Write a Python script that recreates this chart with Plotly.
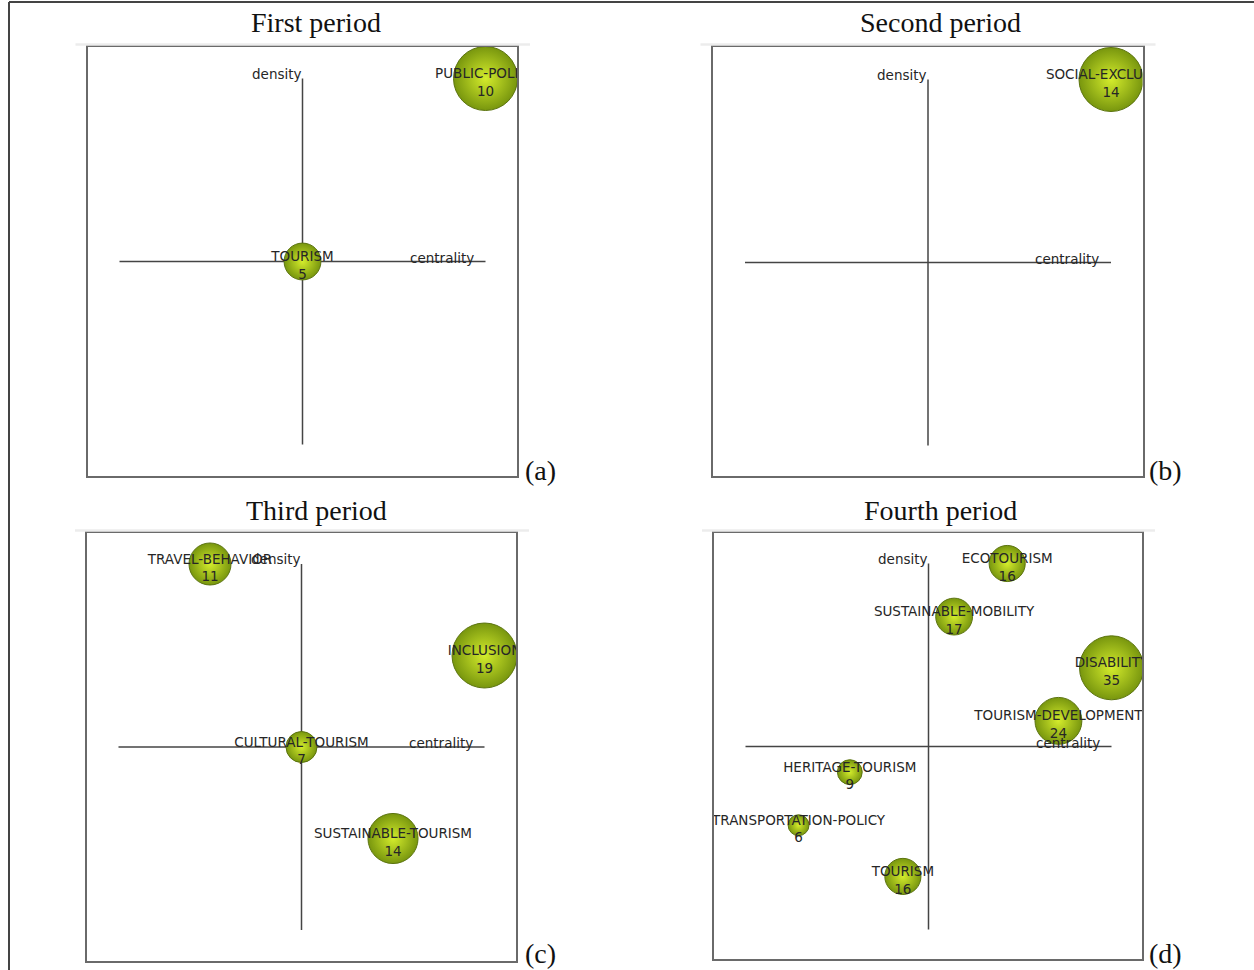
import plotly.graph_objects as go
import math

# ---------------- data ----------------
first_themes = ["PUBLIC-POLICY", "TOURISM"]
first_counts = [10, 5]
first_centrality = [1.0, 0.0]
first_density = [1.0, 0.0]
first_weight = [16.0, 5.3]

second_themes = ["SOCIAL-EXCLUSION"]
second_counts = [14]
second_centrality = [1.0]
second_density = [1.0]
second_weight = [16.0]

third_themes = ["TRAVEL-BEHAVIOR", "INCLUSION", "CULTURAL-TOURISM", "SUSTAINABLE-TOURISM"]
third_counts = [11, 19, 7, 14]
third_centrality = [-0.5, 1.0, 0.0, 0.5]
third_density = [1.0, 0.5, 0.0, -0.5]
third_weight = [6.9, 16.5, 3.75, 9.8]

fourth_themes = ["ECOTOURISM", "SUSTAINABLE-MOBILITY", "DISABILITY", "TOURISM-DEVELOPMENT",
                 "HERITAGE-TOURISM", "TRANSPORTATION-POLICY", "TOURISM"]
fourth_counts = [16, 17, 35, 24, 9, 6, 16]
fourth_centrality = [0.43, 0.14, 1.0, 0.71, -0.43, -0.71, -0.14]
fourth_density = [1.0, 0.71, 0.43, 0.14, -0.14, -0.43, -0.71]
fourth_weight = [5.1, 5.3, 16.0, 8.6, 2.4, 1.7, 5.1]

panel_titles = ["First period", "Second period", "Third period", "Fourth period"]
panel_tags = ["(a)", "(b)", "(c)", "(d)"]

# ---------------- layout geometry (pixels) ----------------
W, H = 1254, 970
U = 183.0  # pixels per unit (crosshair half length)
panels = [
    dict(box=(87.5, 46.5, 517, 476), c=(302.5, 261.5), title=(316, 22), tag=(540, 470)),
    dict(box=(712.5, 46.5, 1142.5, 475.5), c=(928, 262.5), title=(940, 22), tag=(1165, 470)),
    dict(box=(87, 532.5, 516, 961), c=(301.5, 747), title=(316, 510), tag=(540, 953)),
    dict(box=(714, 532.5, 1142, 959), c=(928.5, 746.5), title=(940, 510), tag=(1165, 953)),
]
series = [
    (first_themes, first_counts, first_centrality, first_density, first_weight),
    (second_themes, second_counts, second_centrality, second_density, second_weight),
    (third_themes, third_counts, third_centrality, third_density, third_weight),
    (fourth_themes, fourth_counts, fourth_centrality, fourth_density, fourth_weight),
]


def px(x):
    return x / W


def py(y):
    return 1 - y / H


fig = go.Figure()
LABEL_FONT = dict(family="DejaVu Sans, Verdana, sans-serif", size=13.5, color="#262626")
TITLE_FONT = dict(family="Liberation Serif, Times New Roman, serif", size=28, color="#111")

for i, (p, s) in enumerate(zip(panels, series)):
    themes, counts, cen, den, wt = s
    L, T, R, B = p["box"]
    cx, cy = p["c"]
    n = "" if i == 0 else str(i + 1)
    xa, ya = "x" + n, "y" + n
    axis_common = dict(showgrid=False, zeroline=False, showticklabels=False, ticks="",
                       showline=True, mirror=True, linecolor="#6a6a6a", linewidth=1.5,
                       fixedrange=True)
    fig.update_layout(**{
        "xaxis" + n: dict(domain=[px(L), px(R)], range=[(L - cx) / U, (R - cx) / U],
                          anchor=ya, **axis_common),
        "yaxis" + n: dict(domain=[py(B), py(T)], range=[(cy - B) / U, (cy - T) / U],
                          anchor=xa, **axis_common),
    })
    # crosshair
    fig.add_shape(type="line", xref=xa, yref=ya, x0=-1, x1=1, y0=0, y1=0,
                  line=dict(color="#444", width=1.5), layer="below")
    fig.add_shape(type="line", xref=xa, yref=ya, x0=0, x1=0, y0=-1, y1=1,
                  line=dict(color="#444", width=1.5), layer="below")
    # axis names
    fig.add_annotation(xref=xa, yref=ya, x=0, y=1, text="density", showarrow=False,
                       xanchor="right", yanchor="middle", yshift=5, xshift=1, font=LABEL_FONT)
    fig.add_annotation(xref=xa, yref=ya, x=1, y=0, text="centrality", showarrow=False,
                       xanchor="right", yanchor="middle", yshift=4, xshift=-10, font=LABEL_FONT)
    # bubbles
    diam = [16.0 * math.sqrt(w) for w in wt]
    fig.add_trace(go.Scatter(
        x=cen, y=den, mode="markers", xaxis=xa, yaxis=ya, cliponaxis=True,
        marker=dict(size=diam, sizemode="diameter", color="#78960e", opacity=1,
                    gradient=dict(type="radial", color="#d4ec2c"),
                    line=dict(color="#5c7410", width=1)),
        hoverinfo="skip", showlegend=False))
    fig.add_trace(go.Scatter(
        x=cen, y=[d - 5.0 / U for d in den], mode="text", xaxis=xa, yaxis=ya, cliponaxis=True,
        text=[f"{t}<br>{c}" for t, c in zip(themes, counts)],
        textposition="middle center", textfont=LABEL_FONT,
        hoverinfo="skip", showlegend=False))
    # titles and tags
    tx, ty = p["title"]
    fig.add_annotation(xref="paper", yref="paper", x=px(tx), y=py(ty), text=panel_titles[i],
                       showarrow=False, xanchor="center", yanchor="middle", font=TITLE_FONT)
    gx, gy = p["tag"]
    fig.add_annotation(xref="paper", yref="paper", x=px(gx), y=py(gy), text=panel_tags[i],
                       showarrow=False, xanchor="center", yanchor="middle", font=TITLE_FONT)
    # light band above the box
    fig.add_shape(type="line", xref="paper", yref="paper", x0=px(L - 12), x1=px(R + 13),
                  y0=py(T - 2), y1=py(T - 2), line=dict(color="#ececec", width=2.5))

# outer frame (left and top edges visible)
fig.add_shape(type="line", xref="paper", yref="paper", x0=px(9), x1=px(9), y0=py(2), y1=py(975),
              line=dict(color="#444", width=2))
fig.add_shape(type="line", xref="paper", yref="paper", x0=px(9), x1=px(1260), y0=py(2), y1=py(2),
              line=dict(color="#444", width=2))

fig.update_layout(width=W, height=H, margin=dict(l=0, r=0, t=0, b=0),
                  paper_bgcolor="white", plot_bgcolor="white", showlegend=False)

fig.write_html("out.html", config={"displayModeBar": False},
               post_script="document.body.style.margin='0';"
                           "document.documentElement.style.overflow='hidden';"
                           "document.body.style.overflow='hidden';")
